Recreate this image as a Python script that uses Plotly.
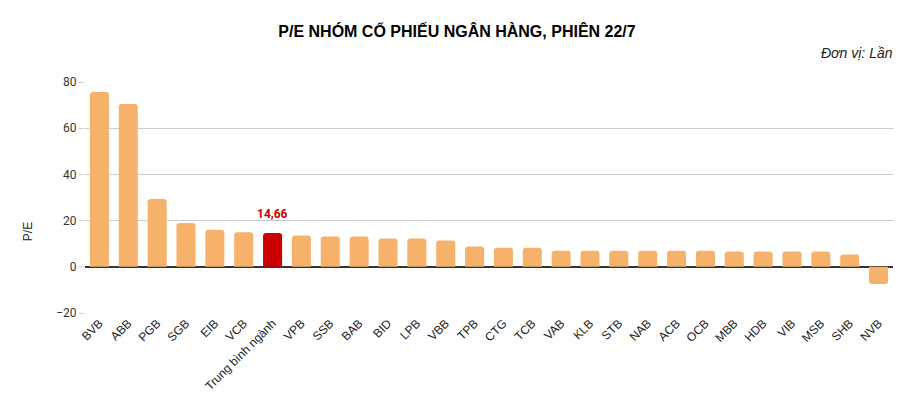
import plotly.graph_objects as go

categories = ["BVB", "ABB", "PGB", "SGB", "EIB", "VCB", "Trung bình ngành", "VPB", "SSB", "BAB",
              "BID", "LPB", "VBB", "TPB", "CTG", "TCB", "VAB", "KLB", "STB", "NAB",
              "ACB", "OCB", "MBB", "HDB", "VIB", "MSB", "SHB", "NVB"]
pe_values = [75.7, 70.5, 29.4, 19.0, 16.0, 15.0, 14.66, 13.6, 13.1, 13.1,
             12.2, 12.2, 11.4, 8.8, 8.3, 8.3, 7.0, 7.0, 7.0, 7.0,
             7.0, 7.0, 6.6, 6.6, 6.6, 6.6, 5.3, -7.4]
highlight = "Trung bình ngành"
highlight_label = "14,66"
y_ticks = [-20, 0, 20, 40, 60, 80]

colors = ["#CC0000" if c == highlight else "#F6B26B" for c in categories]

W, H = 906, 406

fig = go.Figure()
fig.add_trace(go.Bar(
    x=categories, y=pe_values,
    marker=dict(color=colors, line=dict(width=0), cornerradius=3),
    hoverinfo="x+y",
))

hi_idx = categories.index(highlight)
fig.add_annotation(
    x=categories[hi_idx], y=pe_values[hi_idx], text="<b>" + highlight_label + "</b>",
    showarrow=False, yanchor="bottom", yshift=10,
    font=dict(family="Roboto", size=12, color="#CC0000"),
)

fig.add_annotation(
    xref="paper", yref="paper", x=1.0, y=1.0, xanchor="right", yanchor="bottom",
    yshift=19, xshift=2, text="<i>Đơn vị: Lần</i>", showarrow=False,
    font=dict(family="Liberation Sans, Arial", size=14, color="#222222"),
)

fig.add_annotation(
    xref="paper", yref="paper", x=0, y=0.35, xanchor="center", yanchor="middle",
    xshift=-57, textangle=-90, text="P/E", showarrow=False,
    font=dict(family="Liberation Sans, Arial", size=12, color="#222222"),
)

fig.update_layout(
    width=W, height=H,
    margin=dict(l=77, r=21, t=74, b=101),
    paper_bgcolor="white", plot_bgcolor="white",
    title=dict(text="<b>P/E NHÓM CỔ PHIẾU NGÂN HÀNG, PHIÊN 22/7</b>",
               x=449 / W, xanchor="center", y=1 - 23 / H, yanchor="middle",
               font=dict(family="Liberation Sans, Arial", size=16, color="#000000")),
    bargap=0.34,
    showlegend=False,
    xaxis=dict(tickangle=-45, tickfont=dict(family="Liberation Sans, Arial", size=12, color="#222222"),
               showgrid=False, showline=False, ticks=""),
    yaxis=dict(range=[-20, 80], tickvals=y_ticks, showgrid=True, gridcolor="#CCCCCC", gridwidth=1,
               zeroline=True, zerolinecolor="#333333", zerolinewidth=1.5,
               ticks="outside", ticklen=5, tickcolor="#CCCCCC",
               tickfont=dict(family="Roboto", size=12, color="#333333")),
)

fig.write_html("out.html")
